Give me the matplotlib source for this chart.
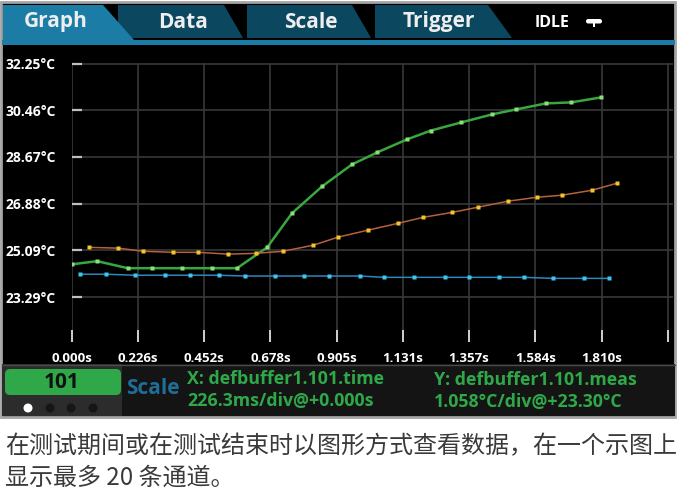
import matplotlib.pyplot as plt
from matplotlib.patches import Polygon, Rectangle, FancyBboxPatch, Circle

# Readings taken off the instrument screen (time in s, temperature in °C)
green_t = [0.000, 0.086, 0.191, 0.273, 0.376, 0.479, 0.564, 0.667, 0.752, 0.855,
           0.957, 1.043, 1.145, 1.227, 1.330, 1.436, 1.518, 1.620, 1.706, 1.808]
green_v = [24.55, 24.67, 24.40, 24.40, 24.40, 24.40, 24.40, 25.20, 26.51, 27.54,
           28.38, 28.84, 29.34, 29.68, 29.99, 30.30, 30.49, 30.72, 30.76, 30.95]

orange_t = [0.058, 0.157, 0.243, 0.345, 0.431, 0.533, 0.629, 0.721, 0.824, 0.909,
            1.012, 1.114, 1.200, 1.299, 1.388, 1.490, 1.589, 1.675, 1.777, 1.863]
orange_v = [25.20, 25.17, 25.05, 25.01, 25.01, 24.94, 24.97, 25.05, 25.28, 25.59,
            25.86, 26.12, 26.35, 26.54, 26.74, 26.97, 27.12, 27.20, 27.39, 27.66]

blue_t = [0.027, 0.116, 0.215, 0.318, 0.403, 0.502, 0.591, 0.694, 0.793, 0.878,
          0.984, 1.066, 1.169, 1.275, 1.357, 1.459, 1.545, 1.644, 1.750, 1.835]
blue_v = [24.17, 24.17, 24.13, 24.13, 24.13, 24.13, 24.10, 24.10, 24.10, 24.10,
          24.10, 24.05, 24.05, 24.05, 24.05, 24.05, 24.05, 24.01, 24.01, 24.01]

x_labels = ['0.000s', '0.226s', '0.452s', '0.678s', '0.905s',
            '1.131s', '1.357s', '1.584s', '1.810s', '']
x_ticks = [0.0, 0.226, 0.452, 0.678, 0.905, 1.131, 1.357, 1.584, 1.810, 2.036]
y_ticks = [32.25, 30.46, 28.67, 26.88, 25.09, 23.29]
y_labels = ['32.25°C', '30.46°C', '28.67°C', '26.88°C', '25.09°C', '23.29°C']

tabs = ['Graph', 'Data', 'Scale', 'Trigger']
x_info = ['X: defbuffer1.101.time', '226.3ms/div@+0.000s']
y_info = ['Y: defbuffer1.101.meas', '1.058°C/div@+23.30°C']
caption = ['在测试期间或在测试结束时以图形方式查看数据，在一个示图上',
           '显示最多 20 条通道。']

W, H = 679, 497
fig = plt.figure(figsize=(W / 100, H / 100), dpi=100, facecolor='white')

# --- screen chrome, drawn in pixel coordinates ---
bg = fig.add_axes([0, 0, 1, 1], zorder=0)
bg.set_xlim(0, W)
bg.set_ylim(H, 0)
bg.axis('off')

ui = 'Open Sans'
bg.add_patch(Rectangle((1, 2), 674, 415, facecolor='black', edgecolor='#a4a4a4', lw=2))

# tabs
tab_shapes = [
    [(118, 5), (224, 5), (243, 38), (118, 38)],
    [(247, 5), (352, 5), (371, 38), (247, 38)],
    [(375, 5), (488, 5), (512, 38), (375, 38)],
]
for pts in tab_shapes:
    bg.add_patch(Polygon(pts, closed=True, facecolor='#0c4760', edgecolor='none'))
bg.add_patch(Polygon([(3, 5), (103, 5), (135, 41), (3, 41)], closed=True,
                     facecolor='#1b7ca5', edgecolor='none'))
bg.add_patch(Rectangle((2, 40), 673, 4.5, facecolor='#1b7ca5', edgecolor='none'))

tab_x = [56, 183, 311, 439]
for name, tx in zip(tabs, tab_x):
    bg.text(tx, 22, name, color='#eeeeee', fontsize=15, fontweight='bold',
            family=ui, ha='center', va='center')
bg.text(535, 23, 'IDLE', color='white', fontsize=11.5, fontweight='bold',
        family=ui, ha='left', va='center')
bg.add_patch(FancyBboxPatch((586, 19), 16, 4.5, boxstyle='round,pad=0,rounding_size=2.2',
                            facecolor='white', edgecolor='none'))
bg.add_patch(Rectangle((593, 22), 2, 5, facecolor='white', edgecolor='none'))

# status bar
bg.add_patch(Rectangle((2, 364), 673, 52, facecolor='#141414', edgecolor='none'))
bg.add_patch(Rectangle((2, 364), 120, 52, facecolor='#2c2c2c', edgecolor='none'))
bg.plot([2, 675], [364.5, 364.5], color='#4a4a4a', lw=1)
bg.add_patch(FancyBboxPatch((5, 369), 116, 26, boxstyle='round,pad=0,rounding_size=5',
                            facecolor='#2fa84a', edgecolor='none'))
bg.text(62, 382, '101', color='#111111', fontsize=15, fontweight='bold',
        family=ui, ha='center', va='center')
for i, dx in enumerate([28, 50, 71, 93]):
    bg.add_patch(Circle((dx, 408), 4.5, facecolor='white' if i == 0 else '#161616',
                        edgecolor='none'))
bg.text(126, 388, 'Scale', color='#1f6e98', fontsize=15, fontweight='bold',
        family=ui, ha='left', va='center')
for line, ty in zip(x_info, [379, 401]):
    bg.text(187, ty, line, color='#2fa84a', fontsize=12.8, fontweight='bold',
            family=ui, ha='left', va='center')
for line, ty in zip(y_info, [380, 402]):
    bg.text(434, ty, line, color='#2fa84a', fontsize=12.8, fontweight='bold',
            family=ui, ha='left', va='center')

# caption under the screen
for line, ty in zip(caption, [446, 478]):
    bg.text(5, ty, line, color='#3a3a3a', fontsize=17.3,
            family=['Noto Sans CJK SC', 'DejaVu Sans'], ha='left', va='center')

# --- the graph itself ---
left, right, top, bottom = 72, 673, 63, 342
ax = fig.add_axes([left / W, 1 - bottom / H, (right - left) / W, (bottom - top) / H],
                  zorder=1)
ax.set_facecolor('black')
ax.plot(green_t, green_v, color='#36a83e', lw=1.8, marker='s', ms=2.7,
        mfc='#8fdc7a', mec='none', zorder=3)
ax.plot(orange_t, orange_v, color='#b4623c', lw=1.1, marker='s', ms=2.6,
        mfc='#f2c52e', mec='none', zorder=3)
ax.plot(blue_t, blue_v, color='#2f86b8', lw=1.1, marker='s', ms=2.6,
        mfc='#3cc6f0', mec='none', zorder=3)

ax.set_xlim(0, 2.054)
ax.set_ylim(21.57, 32.27)
ax.set_xticks(x_ticks, x_labels, fontweight='bold', family=ui)
ax.set_yticks(y_ticks, y_labels, ha='left', fontweight='bold', family=ui)
ax.tick_params(axis='x', direction='in', length=8.6, width=1.4, color='#d0d0d0',
               pad=7, labelsize=9.5, labelcolor='white')
ax.tick_params(axis='y', direction='in', length=7.2, width=1.6, color='#c0c0c0',
               pad=48.2, labelsize=10, labelcolor='white')
ax.grid(True, color='#383838', lw=1.2)
ax.set_axisbelow(True)
for s in ax.spines.values():
    s.set_visible(False)

fig.savefig('out.png', dpi=100, facecolor='white')
